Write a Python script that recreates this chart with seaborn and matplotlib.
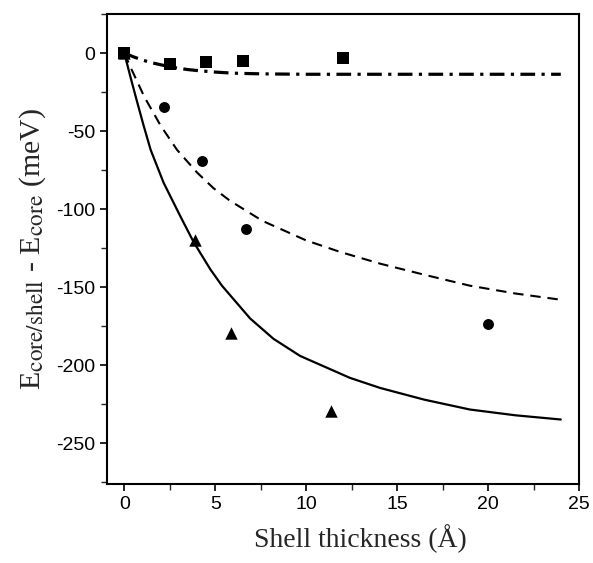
import numpy as np
import pandas as pd
import matplotlib
matplotlib.use("Agg")
import matplotlib.pyplot as plt
import matplotlib._mathtext as _mt
from matplotlib.ticker import MultipleLocator
import seaborn as sns

# --- data ---
sq_x = [0.0, 2.5, 4.5, 6.5, 12.0]
sq_y = [0.0, -7.0, -6.0, -5.0, -3.0]

ci_x = [0.0, 2.2, 4.3, 6.7, 20.0]
ci_y = [0.0, -34.5, -69.0, -112.5, -173.5]

tr_x = [0.0, 3.9, 5.85, 11.35]
tr_y = [0.0, -119.5, -179.0, -229.0]

dd_x = [0.0, 0.5, 1.0, 1.5, 2.0, 2.5, 3.0, 3.5, 4.0, 5.0, 6.0, 7.0, 8.0, 10.0, 14.0, 18.0, 24.0]
dd_y = [0.0, -2.4, -4.5, -6.2, -7.5, -8.7, -9.8, -10.6, -11.2, -12.2, -12.9, -13.2, -13.4, -13.6, -13.6, -13.6, -13.6]

da_x = [0.0, 0.4, 1.1, 2.0, 2.9, 4.0, 4.9, 5.8, 7.6, 10.0, 11.9, 14.1, 16.5, 19.0, 21.5, 24.0]
da_y = [0.0, -10.5, -28.0, -46.5, -62.0, -76.5, -86.5, -94.5, -107.5, -120.0, -127.5, -135.0, -142.0, -149.0, -154.0, -158.0]

so_x = [0.0, 0.4, 0.7, 1.04, 1.45, 2.16, 3.08, 3.81, 4.73, 5.37, 6.92, 8.2, 9.67, 12.4, 14.07, 16.5, 19.0, 21.5, 24.0]
so_y = [0.0, -18.0, -31.0, -45.5, -62.0, -83.0, -104.5, -121.0, -138.5, -149.0, -170.0, -183.0, -194.0, -208.0, -214.5, -222.0, -228.3, -232.0, -234.7]

x_ticks = [0, 5, 10, 15, 20, 25]
y_ticks = [0, -50, -100, -150, -200, -250]

sns.set_style("ticks")
plt.rcParams["font.family"] = ["Liberation Sans", "DejaVu Sans"]
plt.rcParams["mathtext.fontset"] = "stix"
plt.rcParams["axes.unicode_minus"] = False
_mt.SHRINK_FACTOR = 0.78

fig = plt.figure(figsize=(5.93, 5.63), dpi=100)
ax = fig.add_axes([107/593, 1 - 484/563, (579 - 107)/593, (484 - 14)/563])

sns.lineplot(x=so_x, y=so_y, ax=ax, color="black", lw=1.6, sort=False, estimator=None)
sns.lineplot(x=da_x, y=da_y, ax=ax, color="black", lw=1.5, sort=False, estimator=None)
sns.lineplot(x=dd_x, y=dd_y, ax=ax, color="black", lw=2.3, sort=False, estimator=None)
lines = ax.get_lines()
lines[1].set_dashes((5.0, 3.3))
lines[2].set_dashes((4.6, 2.0, 1.0, 2.0))

sns.scatterplot(x=sq_x, y=sq_y, ax=ax, marker="s", s=72, color="black", edgecolor="black", linewidth=0, zorder=5)
sns.scatterplot(x=ci_x, y=ci_y, ax=ax, marker="o", s=62, color="black", edgecolor="black", linewidth=0, zorder=5)
sns.scatterplot(x=tr_x, y=tr_y, ax=ax, marker="^", s=80, color="black", edgecolor="black", linewidth=0, zorder=5)

ax.set_xlim(-0.95, 25)
ax.set_ylim(-276, 25)
ax.set_xticks(x_ticks)
ax.set_yticks(y_ticks)
ax.xaxis.set_minor_locator(MultipleLocator(2.5))
ax.yaxis.set_minor_locator(MultipleLocator(25))
ax.tick_params(which="major", direction="out", length=5, width=1.2, labelsize=14, colors="black")
ax.tick_params(which="minor", direction="out", length=4, width=1.0)
ax.tick_params(top=False, right=False, which="both")

for sp in ax.spines.values():
    sp.set_visible(True)
    sp.set_linewidth(1.5)
    sp.set_color("black")

ax.set_xlabel("Shell thickness (Å)", fontfamily="Liberation Serif", fontsize=20, labelpad=6)
ax.xaxis.set_label_coords(0.5 + 17/472, -0.085)
ax.set_ylabel(r"E$_{\mathrm{core/shell}}$ - E$_{\mathrm{core}}$ (meV)", fontfamily="Liberation Serif",
              fontsize=21.5, labelpad=6)

fig.savefig("out.png", dpi=100)
